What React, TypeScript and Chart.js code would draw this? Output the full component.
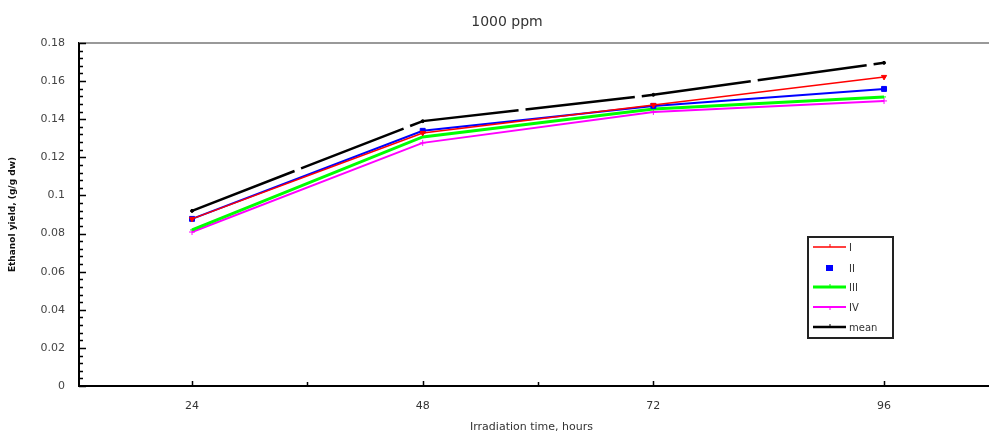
import React, { useEffect, useRef } from "react";
import { Chart, registerables } from "chart.js";

Chart.register(...registerables);

const hours = [24, 48, 72, 96];
const seriesI = [0.0877, 0.1328, 0.1475, 0.1622];
const seriesII = [0.0877, 0.1339, 0.147, 0.1559];
const seriesIII = [0.0819, 0.1307, 0.1454, 0.1517];
const seriesIV = [0.0808, 0.1276, 0.1438, 0.1496];
const seriesMean = [0.0919, 0.139, 0.1528, 0.1696];
const seriesLabels = ["I", "II", "III", "IV", "mean"];
const xTicks = [24, 48, 72, 96];
const xMinorTicks = [36, 60];
const yTicks = [0, 0.02, 0.04, 0.06, 0.08, 0.1, 0.12, 0.14, 0.16, 0.18];

const titleText = "1000 ppm";
const xTitle = "Irradiation time, hours";
const yTitle = "Ethanol yield, (g/g dw)";

const FONT = "'DejaVu Sans', 'Liberation Sans', Arial, sans-serif";

const decorPlugin = {
  id: "decor",
  afterDraw(chart: any) {
    const ctx = chart.ctx;
    const area = chart.chartArea;
    const xs = chart.scales.x;
    const ys = chart.scales.y;
    ctx.save();
    // title
    ctx.fillStyle = "#333";
    ctx.font = `14px ${FONT}`;
    ctx.textAlign = "center";
    ctx.textBaseline = "middle";
    ctx.fillText(titleText, 507, 22);
    // top border
    ctx.strokeStyle = "#999";
    ctx.lineWidth = 2;
    ctx.beginPath();
    ctx.moveTo(area.left, area.top);
    ctx.lineTo(989, area.top);
    ctx.stroke();
    // extend bottom axis to the window edge
    const by = xs.top;
    ctx.strokeStyle = "#000";
    ctx.fillStyle = "#000";
    ctx.fillRect(area.right - 2, Math.round(by) - 1, 989 - area.right + 2, 2);
    // inside ticks
    ctx.lineWidth = 1.5;
    ctx.beginPath();
    for (let v = 0; v <= 0.18 + 1e-9; v += 0.004) {
      const y = Math.round(ys.getPixelForValue(v)) + 0.5;
      const major = Math.abs(v / 0.02 - Math.round(v / 0.02)) < 1e-6;
      ctx.moveTo(area.left, y);
      ctx.lineTo(area.left + (major ? 7 : 4), y);
    }
    xTicks.forEach((t) => {
      const x = Math.round(xs.getPixelForValue(t)) + 0.5;
      ctx.moveTo(x, area.bottom);
      ctx.lineTo(x, area.bottom - 5);
    });
    xMinorTicks.forEach((t) => {
      const x = Math.round(xs.getPixelForValue(t)) + 0.5;
      ctx.moveTo(x, area.bottom);
      ctx.lineTo(x, area.bottom - 4);
    });
    ctx.stroke();
    // legend
    const lx = 808, ly = 237, lw = 85, lh = 101;
    ctx.fillStyle = "#fff";
    ctx.fillRect(lx, ly, lw, lh);
    ctx.strokeStyle = "#222";
    ctx.lineWidth = 2;
    ctx.strokeRect(lx, ly, lw, lh);
    const rows = [247, 268, 287, 307, 327];
    chart.data.datasets.forEach((ds: any, i: number) => {
      const y = rows[i];
      ctx.strokeStyle = ds.borderColor;
      ctx.fillStyle = ds.borderColor;
      if (i === 1) {
        ctx.fillRect(826, y - 3, 7, 6);
      } else {
        ctx.lineWidth = ds.borderWidth;
        ctx.beginPath();
        ctx.moveTo(813, y);
        ctx.lineTo(846, y);
        ctx.stroke();
        ctx.lineWidth = 1;
        ctx.beginPath();
        ctx.moveTo(830, y);
        ctx.lineTo(830, i === 3 ? y + 3 : y - 3);
        ctx.stroke();
      }
      ctx.fillStyle = "#333";
      ctx.font = `10px ${FONT}`;
      ctx.textAlign = "left";
      ctx.textBaseline = "middle";
      ctx.fillText(ds.label, 849, y + 1);
    });
    ctx.restore();
  },
};

export default function App() {
  const ref = useRef<HTMLCanvasElement | null>(null);
  useEffect(() => {
    if (!ref.current) return;
    const mk = (label: string, data: number[], color: string, width: number, style: string, radius: number, extra: any = {}) => ({
      label,
      data: hours.map((h, i) => ({ x: h, y: data[i] })),
      borderColor: color,
      backgroundColor: color,
      borderWidth: width,
      pointStyle: style,
      pointRadius: radius,
      pointBorderWidth: 1,
      tension: 0,
      ...extra,
    });
    const chart = new Chart(ref.current, {
      type: "line",
      data: {
        datasets: [
          mk(seriesLabels[0], seriesI, "#ff0000", 1.5, "triangle", 3, { pointRotation: 180 }),
          mk(seriesLabels[1], seriesII, "#0000ff", 2, "rect", 3.5),
          mk(seriesLabels[2], seriesIII, "#00ff00", 3, "line", 2),
          mk(seriesLabels[3], seriesIV, "#ff00ff", 2, "cross", 3),
          mk(seriesLabels[4], seriesMean, "#000000", 2.5, "circle", 1.5, { borderDash: [110, 7] }),
        ],
      },
      options: {
        animation: false,
        responsive: false,
        layout: { padding: { top: 43, left: 0, right: 0, bottom: 0 } },
        plugins: { legend: { display: false }, tooltip: { enabled: false }, title: { display: false } },
        scales: {
          x: {
            type: "linear",
            min: 12.24,
            max: 106.4,
            afterBuildTicks: (s: any) => {
              s.ticks = xTicks.map((v) => ({ value: v }));
            },
            afterFit: (s: any) => {
              s.height = 49;
            },
            grid: { display: false, drawTicks: false },
            border: { display: true, color: "#000", width: 2 },
            ticks: {
              padding: 14,
              color: "#333",
              font: { family: FONT, size: 11 },
              callback: (v: any) => String(v),
              maxRotation: 0,
            },
            title: {
              display: true,
              text: xTitle,
              color: "#333",
              font: { family: FONT, size: 11 },
              padding: { top: 0, bottom: 1 },
            },
          },
          y: {
            min: 0,
            max: 0.18,
            afterBuildTicks: (s: any) => {
              s.ticks = yTicks.map((v) => ({ value: v }));
            },
            afterFit: (s: any) => {
              s.width = 79;
            },
            grid: { display: false, drawTicks: false },
            border: { display: true, color: "#000", width: 2 },
            ticks: {
              padding: 14,
              color: "#444",
              font: { family: FONT, size: 11 },
              callback: (v: any) => String(Math.round(Number(v) * 100) / 100),
            },
            title: {
              display: true,
              text: yTitle,
              color: "#111",
              font: { family: FONT, size: 9, weight: "bold" },
              padding: { top: 7, bottom: 0 },
            },
          },
        },
      },
      plugins: [decorPlugin],
    } as any);
    return () => chart.destroy();
  }, []);
  return (
    <div style={{ position: "fixed", left: 0, top: 0, width: 989, height: 435, background: "#fff" }}>
      <canvas ref={ref} width={989} height={435} style={{ display: "block" }} />
    </div>
  );
}
